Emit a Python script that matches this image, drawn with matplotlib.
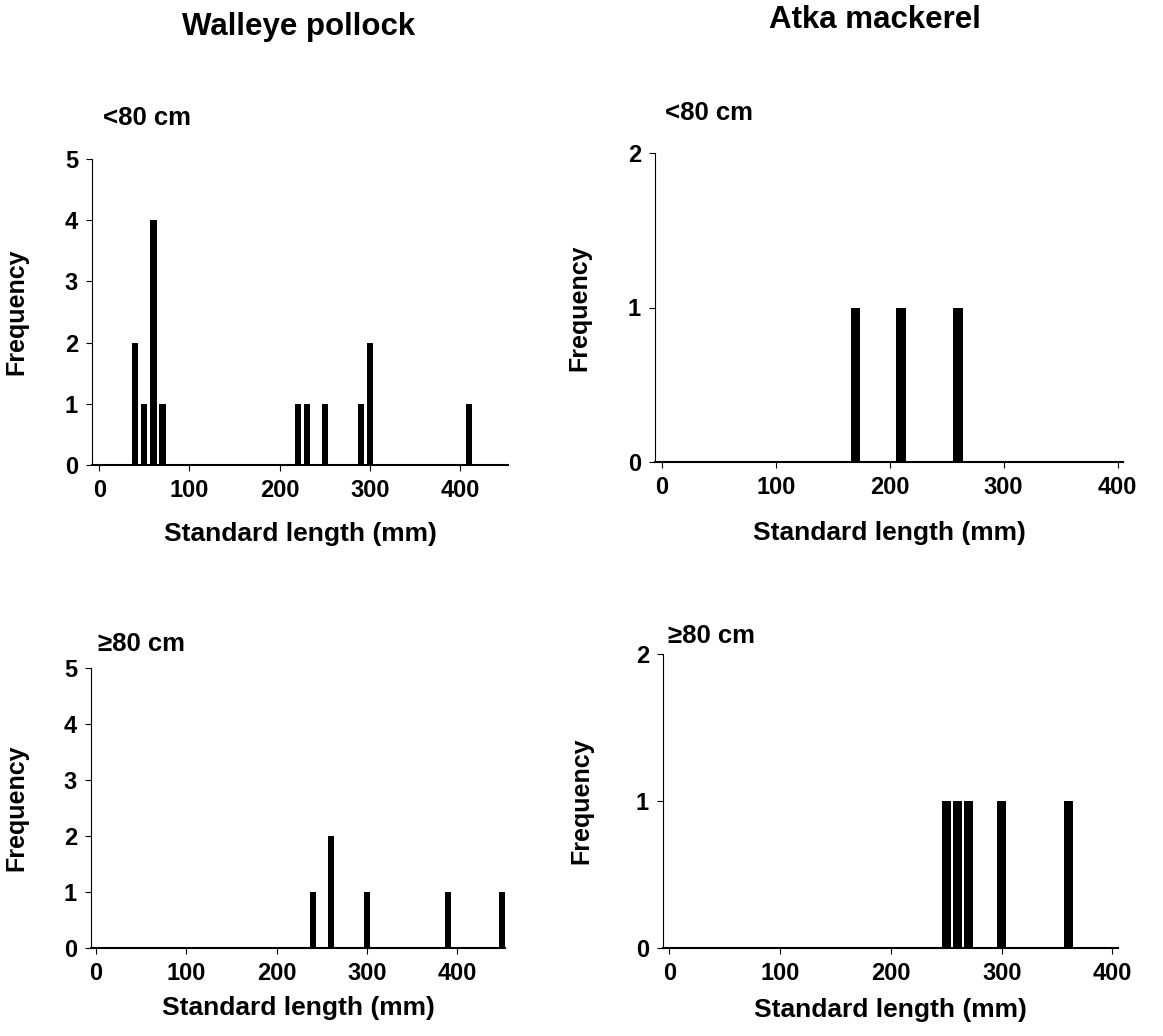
import matplotlib
matplotlib.use("Agg")
import matplotlib.pyplot as plt

plt.rcParams['font.family'] = ['Liberation Sans', 'DejaVu Sans']
plt.rcParams['font.weight'] = 'bold'

# Walleye pollock
wp_small_len = [40, 50, 60, 70, 220, 230, 250, 290, 300, 410]
wp_small_freq = [2, 1, 4, 1, 1, 1, 1, 1, 2, 1]
wp_large_len = [240, 260, 300, 390, 450]
wp_large_freq = [1, 2, 1, 1, 1]

# Atka mackerel
am_small_len = [170, 210, 260]
am_small_freq = [1, 1, 1]
am_large_len = [250, 260, 270, 300, 360]
am_large_freq = [1, 1, 1, 1, 1]

xlabel = "Standard length (mm)"
ylabel = "Frequency"

fig = plt.figure(figsize=(11.63, 10.36), dpi=100)

W, H = 1163, 1036


def rect(l, t, r, b):
    return [l / W, 1 - b / H, (r - l) / W, (b - t) / H]


panels = [
    # rect, x, y, width, xlim, yticks, ylabel x, xlabel y
    (rect(92, 159, 508, 465), wp_small_len, wp_small_freq, 7, (-8, 453), [0, 1, 2, 3, 4, 5], -0.154, -0.185),
    (rect(91, 668, 505, 948), wp_large_len, wp_large_freq, 7, (-5.5, 453), [0, 1, 2, 3, 4, 5], -0.152, -0.17),
    (rect(655, 153, 1123, 462), am_small_len, am_small_freq, 8.5, (-5.9, 404.7), [0, 1, 2], -0.137, -0.19),
    (rect(663, 654, 1118, 948), am_large_len, am_large_freq, 8, (-5.7, 405), [0, 1, 2], -0.153, -0.17),
]

for r, xs, ys, w, xlim, yt, ylx, xly in panels:
    ax = fig.add_axes(r)
    ax.bar(xs, ys, width=w, color='black')
    ax.set_xlim(*xlim)
    ax.set_ylim(0, yt[-1])
    ax.set_yticks(yt)
    ax.set_xticks([0, 100, 200, 300, 400])
    for s in ['top', 'right']:
        ax.spines[s].set_visible(False)
    ax.spines['left'].set_linewidth(0.8)
    ax.spines['bottom'].set_linewidth(1.5)
    ax.tick_params(direction='out', length=4, width=0.8, labelsize=17, pad=6)
    ax.set_xlabel(xlabel, fontsize=19, fontweight='bold', va='top')
    ax.set_ylabel(ylabel, fontsize=18, fontweight='bold')
    ax.xaxis.set_label_coords(0.5, xly)
    ax.yaxis.set_label_coords(ylx, 0.5)

fig.text(298.7 / W, 1 - 35 / H, "Walleye pollock", fontsize=22.5, fontweight='bold',
         ha='center', va='baseline')
fig.text(875 / W, 1 - 28.5 / H, "Atka mackerel", fontsize=22.5, fontweight='bold',
         ha='center', va='baseline')

fig.text(102.7 / W, 1 - 125 / H, "<80 cm", fontsize=18.5, fontweight='bold', va='baseline')
fig.text(665 / W, 1 - 120 / H, "<80 cm", fontsize=18.5, fontweight='bold', va='baseline')
fig.text(98.3 / W, 1 - 650.7 / H, "\u226580 cm", fontsize=18.5, fontweight='bold', va='baseline')
fig.text(668 / W, 1 - 643.3 / H, "\u226580 cm", fontsize=18.5, fontweight='bold', va='baseline')

fig.savefig("out.png", dpi=100)
